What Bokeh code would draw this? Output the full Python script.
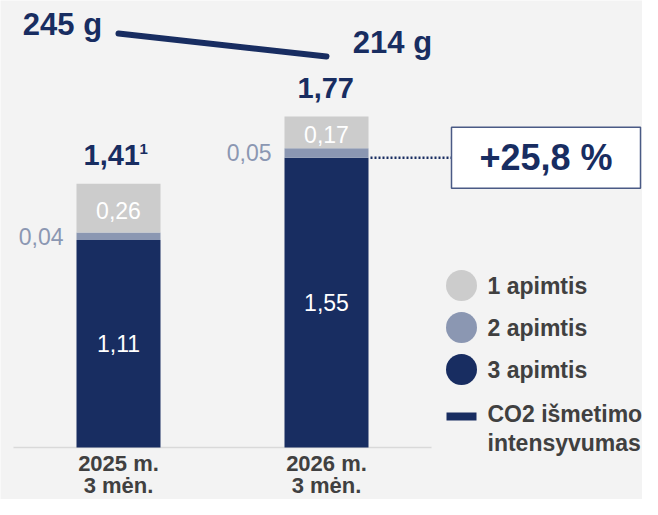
from bokeh.plotting import figure
from bokeh.models import Range1d
from bokeh.embed import file_html
from bokeh.resources import INLINE
from bokeh.core.properties import value

# ---- data ----
periods_l1 = ["2025 m.", "2026 m."]
periods_l2 = ["3 mėn.", "3 mėn."]
scope3 = [1.11, 1.55]
scope2 = [0.04, 0.05]
scope1 = [0.26, 0.17]
totals = [1.41, 1.77]
total_labels = ["1,41", "1,77"]
co2_intensity = [245, 214]
co2_labels = ["245 g", "214 g"]
change_label = "+25,8 %"
legend_labels = ["1 apimtis", "2 apimtis", "3 apimtis"]
legend_line_label = ["CO2 išmetimo", "intensyvumas"]

NAVY = "#182d61"
MID = "#8b97b2"
LIGHT = "#cccccc"
BG = "#f3f3f3"
DARK_TXT = "#404040"
FONT = value("Liberation Sans")

W, H = 642, 499
# pixel helpers (screen position -> data)
PX_X = 208.0   # px per category
PX_Y = 187.0   # px per unit
def X(px):
    return (px - 118) / PX_X
def Y(py):
    return (447 - py) / PX_Y

p = figure(width=W, height=H, output_backend="svg", toolbar_location=None,
           x_range=Range1d(X(0), X(W)), y_range=Range1d(Y(H), Y(0)),
           min_border=0, background_fill_color=BG, border_fill_color=BG,
           outline_line_color=None)
p.axis.visible = False
p.grid.visible = False

# secondary range for CO2 intensity line
g_per_px = (co2_intensity[0] - co2_intensity[1]) / 23.0
p.extra_y_ranges = {"co2": Range1d(co2_intensity[0] - (H - 33) * g_per_px,
                                   co2_intensity[0] + 33 * g_per_px)}

xs = [0, 1]
bw = 84 / PX_X
b2 = scope3
t2 = [a + b for a, b in zip(scope3, scope2)]
t1 = [a + b for a, b in zip(t2, scope1)]

# baseline
p.line([X(13), X(431)], [0, 0], line_color="#d9d9d9", line_width=1.5)

p.vbar(x=xs, bottom=0, top=scope3, width=bw, fill_color=NAVY, line_color=None)
p.vbar(x=xs, bottom=b2, top=t2, width=bw, fill_color=MID, line_color=None)
p.vbar(x=xs, bottom=t2, top=t1, width=bw, fill_color=LIGHT, line_color=None)

fmt = lambda v: f"{v:.2f}".replace(".", ",")

# in-bar labels
p.text(x=xs, y=[v / 2 for v in scope3], text=[fmt(v) for v in scope3],
       text_color="white", text_font=FONT, text_font_size="23px",
       text_align="center", text_baseline="middle")
p.text(x=xs, y=[(a + b) / 2 - 0.01 for a, b in zip(t2, t1)], text=[fmt(v) for v in scope1],
       text_color="white", text_font=FONT, text_font_size="23px",
       text_align="center", text_baseline="middle")
# scope 2 labels left of bars
p.text(x=[x - bw / 2 - 13 / PX_X for x in xs], y=[(a + b) / 2 for a, b in zip(b2, t2)],
       text=[fmt(v) for v in scope2], text_color=MID, text_font=FONT,
       text_font_size="23px", text_align="right", text_baseline="middle")

# totals
p.text(x=[X(83), X(297)], y=[t + 29 / PX_Y for t in totals], text=total_labels,
       text_color=NAVY, text_font=FONT, text_font_size="29px", text_font_style="bold",
       text_align="left", text_baseline="middle")
p.text(x=[X(139)], y=[totals[0] + 35 / PX_Y], text=["1"], text_color=NAVY,
       text_font=FONT, text_font_size="15px", text_font_style="bold",
       text_align="left", text_baseline="middle")

# CO2 intensity line
p.line(x=xs, y=co2_intensity, y_range_name="co2", line_color=NAVY, line_width=6,
       line_cap="round")
p.text(x=[X(62), X(392)], y=[Y(24), Y(42)], text=co2_labels, text_color=NAVY,
       text_font=FONT, text_font_size="31px", text_font_style="bold",
       text_align="center", text_baseline="middle")

# change box
p.line([X(370), X(451)], [scope3[1], scope3[1]], line_color=NAVY, line_width=2.5,
       line_dash="2 2")
p.quad(left=X(451), right=X(640), bottom=scope3[1] - 30.5 / PX_Y, top=scope3[1] + 30.5 / PX_Y,
       fill_color="white", line_color="#4a5a85", line_width=1.5)
p.text(x=[X(545.5)], y=[scope3[1]], text=[change_label], text_color=NAVY,
       text_font=FONT, text_font_size="36px", text_font_style="bold",
       text_align="center", text_baseline="middle")

# categories
p.text(x=xs, y=[Y(463)] * 2, text=periods_l1, text_color=DARK_TXT, text_font=FONT,
       text_font_size="22px", text_font_style="bold", text_align="center",
       text_baseline="middle")
p.text(x=xs, y=[Y(485)] * 2, text=periods_l2, text_color=DARK_TXT, text_font=FONT,
       text_font_size="22px", text_font_style="bold", text_align="center",
       text_baseline="middle")

# legend
leg_y = [Y(285), Y(327), Y(369)]
p.scatter(x=[X(461)] * 3, y=leg_y, size=31, marker="circle",
          fill_color=[LIGHT, MID, NAVY], line_color=None)
p.text(x=[X(487)] * 3, y=leg_y, text=legend_labels, text_color=DARK_TXT, text_font=FONT,
       text_font_size="23px", text_font_style="bold", text_align="left",
       text_baseline="middle")
p.line([X(446), X(476)], [Y(416), Y(416)], line_color=NAVY, line_width=8)
p.text(x=[X(487)] * 2, y=[Y(413), Y(442)], text=legend_line_label, text_color=DARK_TXT,
       text_font=FONT, text_font_size="23px", text_font_style="bold", text_align="left",
       text_baseline="middle")

open("out.html", "w").write(file_html(p, INLINE))
